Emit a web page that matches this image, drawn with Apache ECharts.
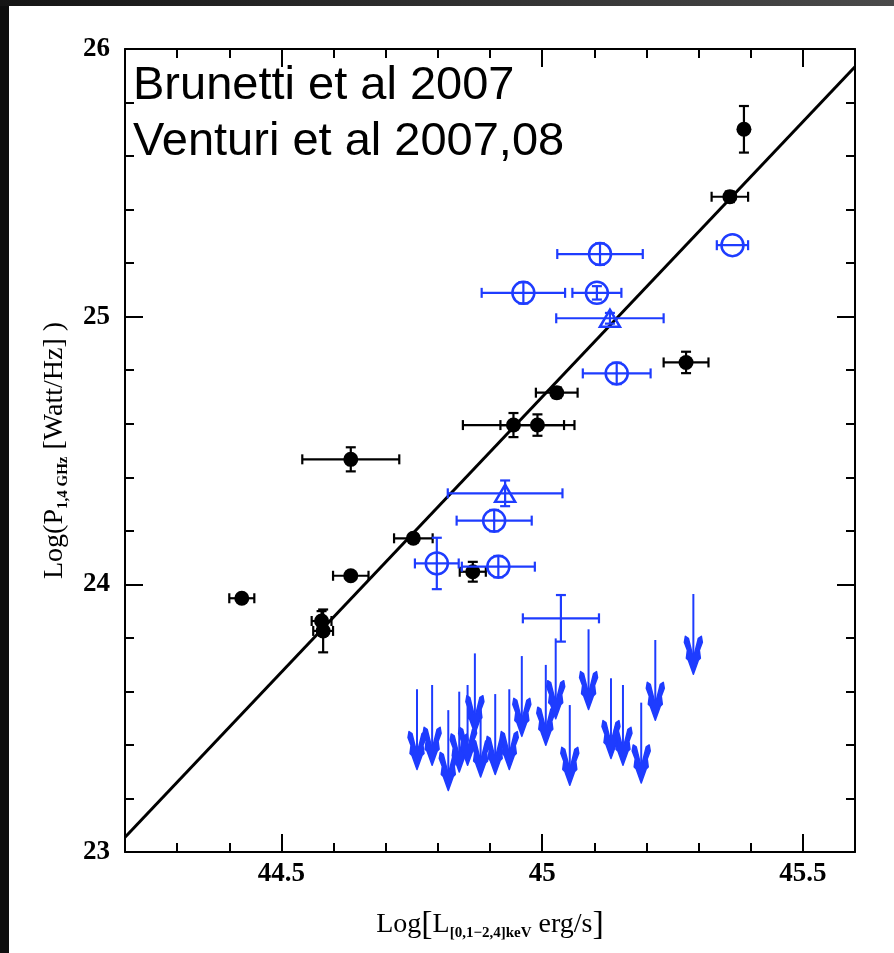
<!DOCTYPE html>
<html>
<head>
<meta charset="utf-8">
<script src="https://cdn.jsdelivr.net/npm/echarts@6/dist/echarts.min.js"></script>
<style>
  html, body { margin: 0; padding: 0; background: #fff; }
  #chart { width: 894px; height: 953px; }
</style>
</head>
<body>
<div id="chart"></div>
<script>
// axis ranges and ticks
const xRange = [44.2, 45.6];
const yRange = [23, 26];
const xMajorTicks = [44.5, 45, 45.5];
const xMinorTicks = [44.3, 44.4, 44.6, 44.7, 44.8, 44.9, 45.1, 45.2, 45.3, 45.4];
const yMajorTicks = [23, 24, 25, 26];
const yMinorTicks = [23.2, 23.4, 23.6, 23.8, 24.2, 24.4, 24.6, 24.8, 25.2, 25.4, 25.6, 25.8];

// black points: giant radio halos (with errors)
const haloX = [45.387, 45.360, 45.276, 45.028, 44.945, 44.991, 44.633, 44.753, 44.867, 44.633, 44.424, 44.577, 44.580];
const haloY = [25.700, 25.448, 24.829, 24.716, 24.595, 24.595, 24.467, 24.172, 24.047, 24.032, 23.948, 23.863, 23.826];
const haloXErr = [0, 0.035, 0.043, 0.04, 0.097, 0.071, 0.093, 0.037, 0.025, 0.034, 0.024, 0.019, 0.019];
const haloYErr = [0.087, 0.02, 0.04, 0.02, 0.045, 0.04, 0.045, 0.015, 0.037, 0.01, 0.01, 0.037, 0.08];

// blue open circles
const circX = [45.365, 45.111, 44.964, 45.105, 45.143, 44.908, 44.798, 44.916];
const circY = [25.267, 25.234, 25.089, 25.089, 24.788, 24.238, 24.078, 24.066];
const circXErr = [0.03, 0.082, 0.08, 0.047, 0.065, 0.072, 0.042, 0.07];
const circYErr = [0, 0.04, 0.04, 0.025, 0.04, 0.04, 0.096, 0.04];

// blue open triangles
const triX = [45.130, 44.929];
const triY = [24.994, 24.340];
const triXErr = [0.103, 0.11];
const triYErr = [0.02, 0.048];

// blue cross without marker
const crossX = [45.036];
const crossY = [23.873];
const crossXErr = [0.073];
const crossYErr = [0.087];

// blue upper limits
const limX = [44.760, 44.789, 44.820, 44.841, 44.857, 44.871, 44.882, 44.910, 44.937, 44.961,
              45.007, 45.026, 45.053, 45.089, 45.132, 45.155, 45.190, 45.217, 45.290];
const limY = [23.608, 23.624, 23.530, 23.599, 23.624, 23.742, 23.580, 23.590, 23.608, 23.732,
              23.699, 23.798, 23.549, 23.832, 23.649, 23.624, 23.558, 23.792, 23.964];
const limLength = 0.3;

// best fit
const fitX = [44.2, 45.6];
const fitY = [23.055, 25.934];

const BLUE = '#1e3cff';
const SERIF = '"Liberation Serif", "DejaVu Serif", serif';

const zip = (...cols) => cols[0].map((_, i) => cols.map((c) => c[i]));

const errorBars = (color) => (params, api) => {
	const x = api.value(0);
	const y = api.value(1);
	const xe = api.value(2);
	const ye = api.value(3);
	const cap = 5;
	const style = { stroke: color, lineWidth: 2.2 };
	const children = [];
	if (xe > 0) {
		const l = api.coord([x - xe, y]);
		const r = api.coord([x + xe, y]);
		children.push({ type: 'line', shape: { x1: l[0], y1: l[1], x2: r[0], y2: r[1] }, style });
		children.push({ type: 'line', shape: { x1: l[0], y1: l[1] - cap, x2: l[0], y2: l[1] + cap }, style });
		children.push({ type: 'line', shape: { x1: r[0], y1: r[1] - cap, x2: r[0], y2: r[1] + cap }, style });
	}
	if (ye > 0) {
		const t = api.coord([x, y + ye]);
		const b = api.coord([x, y - ye]);
		children.push({ type: 'line', shape: { x1: t[0], y1: t[1], x2: b[0], y2: b[1] }, style });
		children.push({ type: 'line', shape: { x1: t[0] - cap, y1: t[1], x2: t[0] + cap, y2: t[1] }, style });
		children.push({ type: 'line', shape: { x1: b[0] - cap, y1: b[1], x2: b[0] + cap, y2: b[1] }, style });
	}
	return { type: 'group', children };
};

// jagged arrow head, pixel offsets from the tip
const arrowHead = [[0, 0], [-5, -14], [-7, -16], [-6, -24], [-9, -32], [-8, -38], [-5, -36],
                   [-1, -20], [1, -20], [5, -36], [8, -38], [9, -32], [6, -24], [7, -16], [5, -14]];

const upperLimit = (params, api) => {
	const x = api.value(0);
	const y = api.value(1);
	const top = api.coord([x, y]);
	const tip = api.coord([x, y - limLength]);
	return {
		type: 'group',
		children: [
			{ type: 'line', shape: { x1: top[0], y1: top[1], x2: tip[0], y2: tip[1] - 4 },
				style: { stroke: BLUE, lineWidth: 2 } },
			{ type: 'polygon', shape: { points: arrowHead.map((p) => [tip[0] + p[0], tip[1] + p[1]]) },
				style: { fill: BLUE, stroke: BLUE, lineWidth: 1.5, lineJoin: 'round' } }
		]
	};
};

const baseAxis = (range, position) => ({
	type: 'value',
	min: range[0],
	max: range[1],
	position,
	axisLine: { show: false, onZero: false },
	splitLine: { show: false },
	axisLabel: { show: false },
	axisTick: { show: false }
});

const boxAxis = (range, position, major, minor, extra) => [
	Object.assign(baseAxis(range, position), {
		axisLine: { show: true, onZero: false, lineStyle: { color: '#000', width: 2 } },
		axisTick: { show: true, inside: true, length: 18, customValues: major, lineStyle: { color: '#000', width: 2 } }
	}, extra || {}),
	Object.assign(baseAxis(range, position), {
		axisTick: { show: true, inside: true, length: 9, customValues: minor, lineStyle: { color: '#000', width: 2 } }
	})
];

const labelStyle = { show: true, color: '#000', fontFamily: SERIF, fontSize: 27, fontWeight: 'bold' };
const nameRich = {
	a: { fontFamily: SERIF, fontSize: 28, color: '#000', lineHeight: 32 },
	b: { fontFamily: SERIF, fontSize: 34, color: '#000', lineHeight: 32 },
	s: { fontFamily: SERIF, fontSize: 15, fontWeight: 'bold', color: '#000', lineHeight: 16, verticalAlign: 'bottom' }
};

const chart = echarts.init(document.getElementById('chart'), null, { renderer: 'canvas' });

chart.setOption({
	animation: false,
	backgroundColor: '#fff',
	grid: { left: 125, top: 49, right: 39, bottom: 101 },
	xAxis: [
		...boxAxis(xRange, 'bottom', xMajorTicks, xMinorTicks, {
			axisLabel: Object.assign({ customValues: xMajorTicks, margin: 9 }, labelStyle),
			name: '{a|Log}{b|[}{a|L}{s|[0,1−2,4]keV}{a| erg/s}{b|]}',
			nameLocation: 'middle',
			nameGap: 57,
			nameTextStyle: { rich: nameRich }
		}),
		...boxAxis(xRange, 'top', xMajorTicks, xMinorTicks)
	],
	yAxis: [
		...boxAxis(yRange, 'left', yMajorTicks, yMinorTicks, {
			axisLabel: Object.assign({ customValues: yMajorTicks, margin: 15 }, labelStyle),
			name: '{a|Log(P}{s|1,4 GHz}{a| [Watt/Hz] )}',
			nameLocation: 'middle',
			nameRotate: 90,
			nameGap: 54,
			nameTextStyle: { rich: nameRich }
		}),
		...boxAxis(yRange, 'right', yMajorTicks, yMinorTicks)
	],
	graphic: [
		{ type: 'rect', shape: { x: 0, y: 0, width: 9, height: 953 }, style: { fill: '#0e0e0e' }, z: 100 },
		{ type: 'rect', shape: { x: 0, y: 0, width: 894, height: 6 }, z: 100,
			style: { fill: new echarts.graphic.LinearGradient(0, 0, 1, 0, [
				{ offset: 0, color: '#151515' }, { offset: 1, color: '#4a4a4a' }]) } },
		{ type: 'text', x: 133, y: 63, z: 100,
			style: { text: 'Brunetti et al 2007', font: '47px "Liberation Sans", Arial, sans-serif', fill: '#000' } },
		{ type: 'text', x: 133, y: 119, z: 100,
			style: { text: 'Venturi et al 2007,08', font: '47px "Liberation Sans", Arial, sans-serif', fill: '#000' } }
	],
	series: [
		{
			type: 'line',
			data: zip(fitX, fitY),
			symbol: 'none',
			lineStyle: { color: '#000', width: 3 },
			z: 2
		},
		{
			type: 'custom',
			renderItem: upperLimit,
			data: zip(limX, limY),
			encode: { x: 0, y: 1 },
			z: 3
		},
		{
			type: 'custom',
			renderItem: errorBars('#000'),
			data: zip(haloX, haloY, haloXErr, haloYErr),
			encode: { x: 0, y: 1 },
			z: 3
		},
		{
			type: 'scatter',
			data: zip(haloX, haloY),
			symbol: 'circle',
			symbolSize: 15,
			itemStyle: { color: '#000', opacity: 1 },
			z: 4
		},
		{
			type: 'scatter',
			data: zip(circX, circY),
			symbol: 'circle',
			symbolSize: 22,
			itemStyle: { color: 'rgba(255,255,255,0)', borderColor: BLUE, borderWidth: 2.5, opacity: 1 },
			z: 4
		},
		{
			type: 'scatter',
			data: zip(triX, triY),
			symbol: 'triangle',
			symbolSize: [20, 17],
			itemStyle: { color: 'rgba(255,255,255,0)', borderColor: BLUE, borderWidth: 2.5, opacity: 1 },
			z: 4
		},
		{
			type: 'custom',
			renderItem: errorBars(BLUE),
			data: zip(circX, circY, circXErr, circYErr)
				.concat(zip(triX, triY, triXErr, triYErr))
				.concat(zip(crossX, crossY, crossXErr, crossYErr)),
			encode: { x: 0, y: 1 },
			z: 5
		}
	]
});
</script>
</body>
</html>
